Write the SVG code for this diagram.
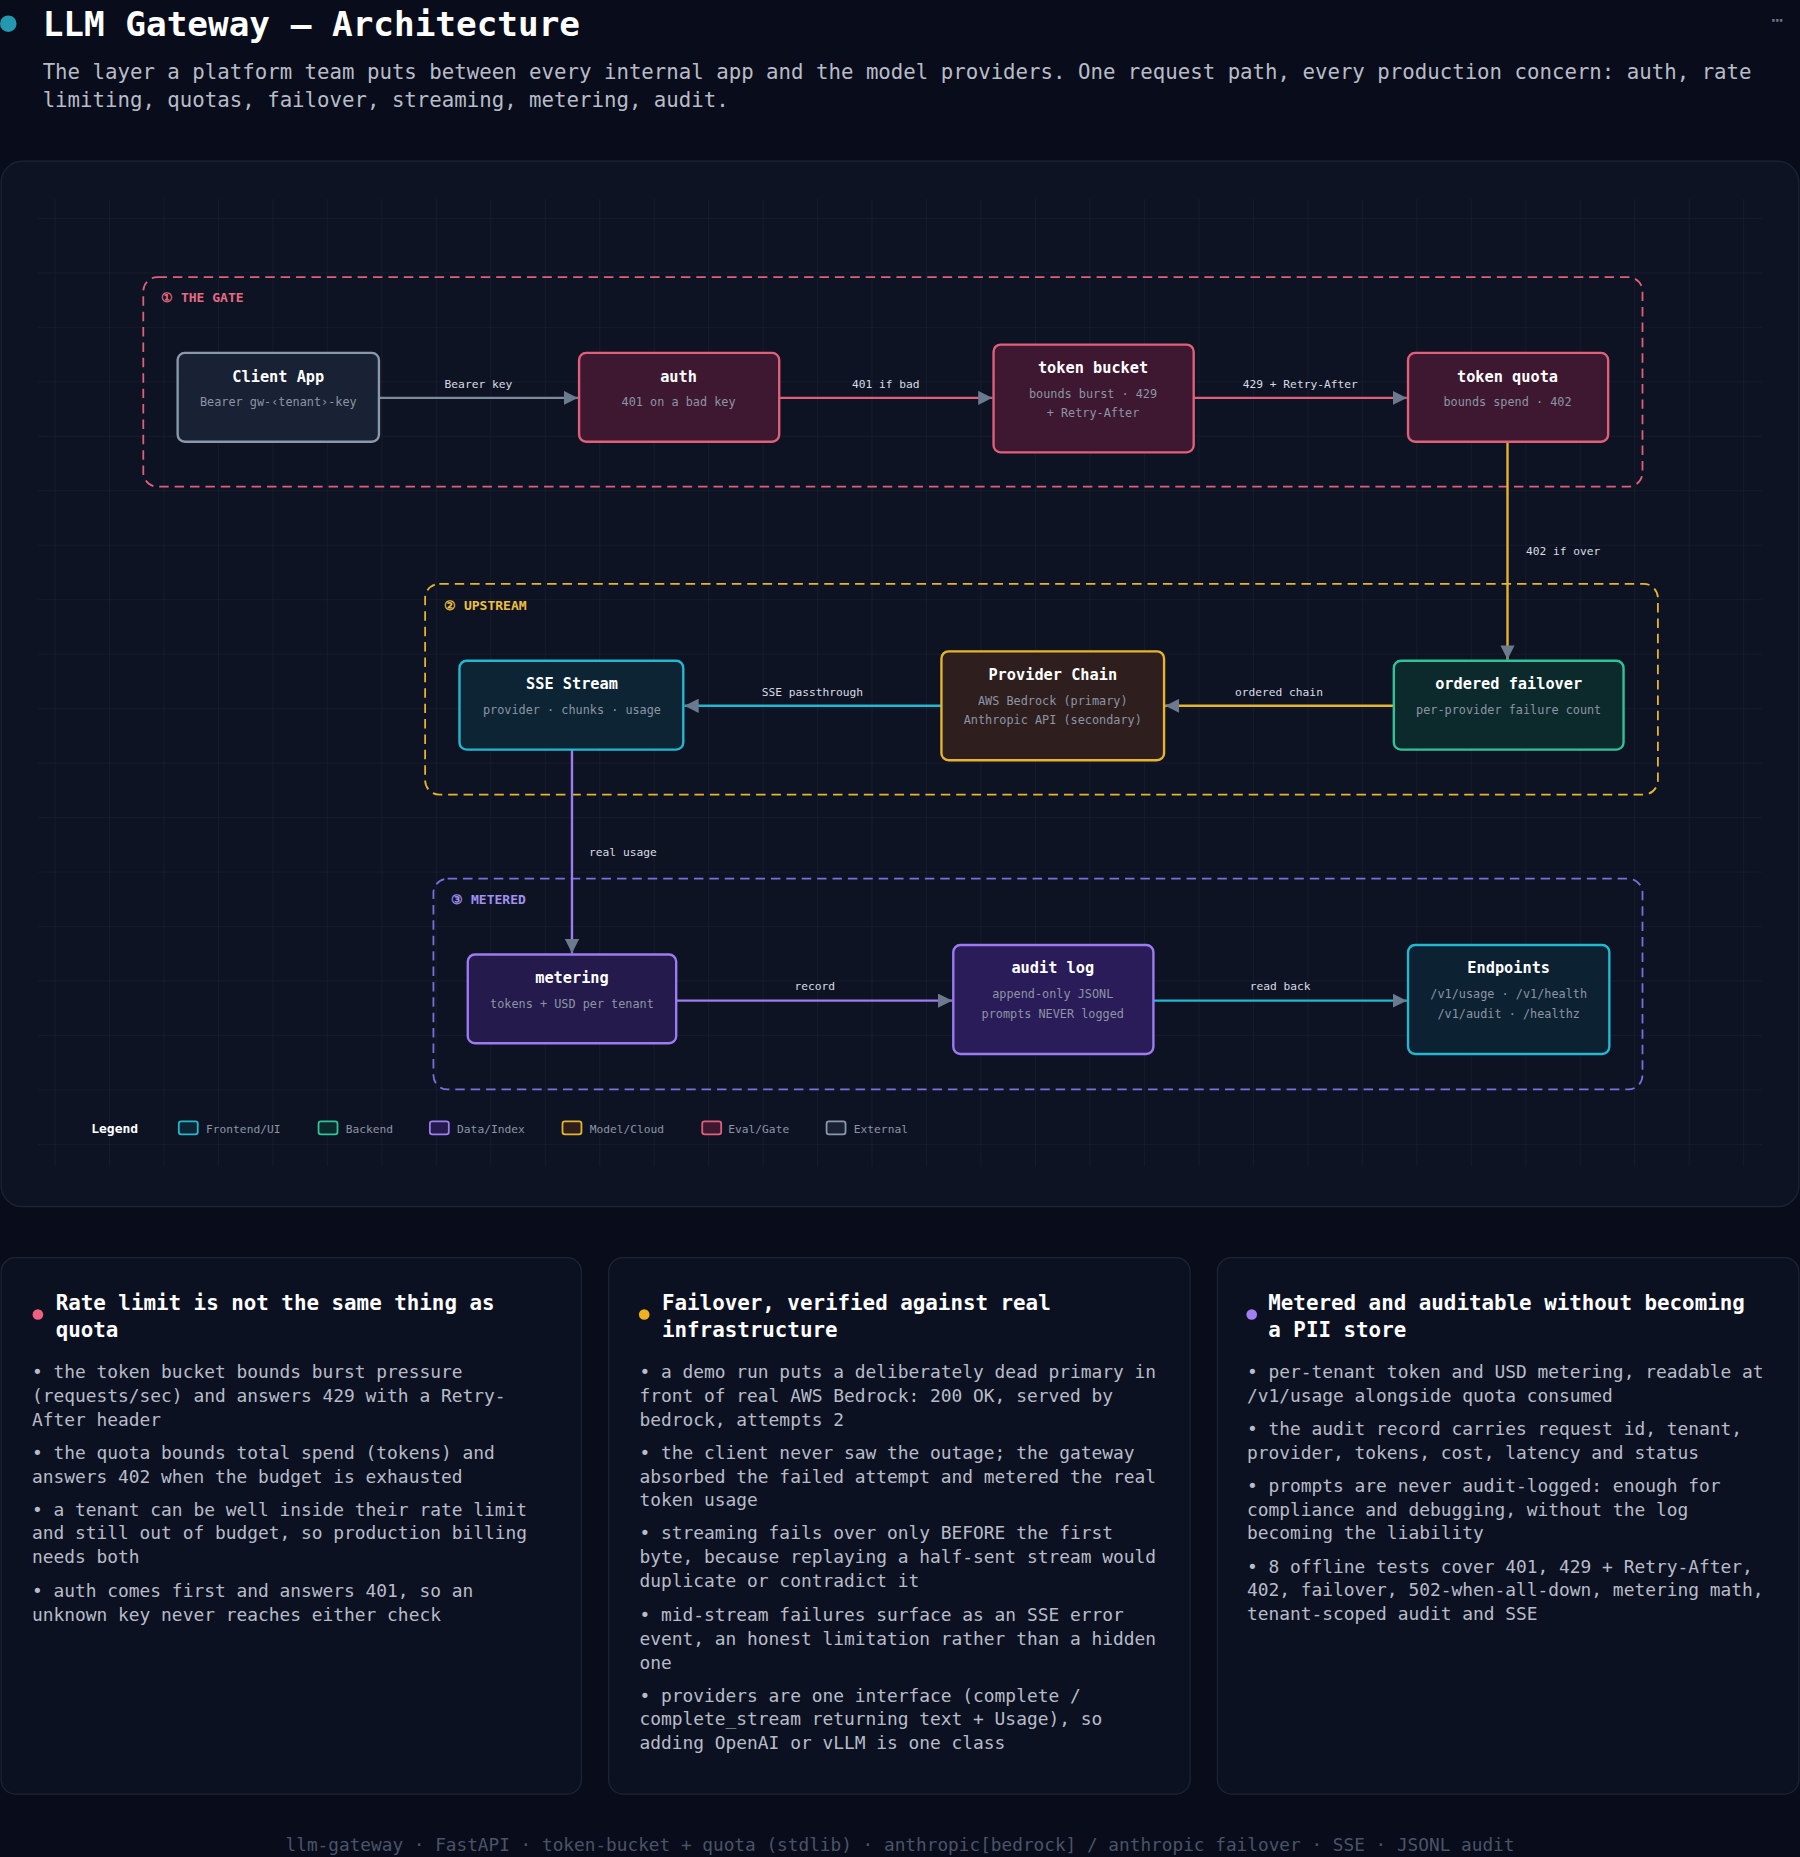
<svg xmlns="http://www.w3.org/2000/svg" width="1800" height="1857" viewBox="0 0 1800 1857">
<defs>
<style>
text{font-family:"DejaVu Sans Mono","Liberation Mono",monospace}
.nt{font-size:12.9px;font-weight:bold;fill:#ffffff;text-anchor:middle}
.ns{font-size:10px;fill:#8c95a5;text-anchor:middle}
.el{font-size:9.5px;fill:#d8dce4;text-anchor:middle}
.node rect{stroke-width:2}
.grp{fill:none;stroke-width:1.5;stroke-dasharray:8 5}
.gl{font-size:11px;font-weight:bold}
.lg{font-size:9.5px;fill:#8c95a5}
.ct{font-size:17.6px;font-weight:bold;fill:#ffffff}
.cb{font-size:15.1px;fill:#b8bcc8}
</style>
<pattern id="grid" width="46" height="46" patternUnits="userSpaceOnUse"><path d="M46 0H0V46" fill="none" stroke="#1a2132" stroke-width="1"/></pattern>
<marker id="ah" viewBox="0 0 10 10" refX="10" refY="5" markerWidth="12" markerHeight="12" markerUnits="userSpaceOnUse" orient="auto"><path d="M0 0L10 5L0 10z" fill="#6b7a8e"/></marker>
</defs>
<rect width="1800" height="1857" fill="#090c1a"/>
<g transform="scale(1.18421)">
<circle cx="7" cy="20" r="7" fill="#2398b0"/>
<text x="36" y="30" font-size="29" font-weight="bold" fill="#ffffff">LLM Gateway — Architecture</text>
<text x="1496" y="22" font-size="16" fill="#6b7486">⋯</text>
<text x="36" y="67" font-size="17.5" fill="#b8bcc8">The layer a platform team puts between every internal app and the model providers. One request path, every production concern: auth, rate</text>
<text x="36" y="90" font-size="17.5" fill="#b8bcc8">limiting, quotas, failover, streaming, metering, audit.</text>

<rect x="1" y="136" width="1518" height="883" rx="18" fill="#0e1323" stroke="#1e2536"/>
<rect x="32" y="168" width="1456" height="817" fill="url(#grid)"/>

<g id="groups">
<rect class="grp" x="121" y="234" width="1266" height="177" rx="12" stroke="#e0607a"/>
<text class="gl" x="136" y="255" fill="#e86a82">① THE GATE</text>
<rect class="grp" x="359" y="493" width="1041" height="178" rx="12" stroke="#e6b52e" fill="#11131c"/>
<text class="gl" x="375" y="515" fill="#f0c040">② UPSTREAM</text>
<rect class="grp" x="366" y="742" width="1021" height="178" rx="12" stroke="#7c6ee0" fill="#10122a" fill-opacity="0.5"/>
<text class="gl" x="381" y="763" fill="#a090f0">③ METERED</text>
</g>

<g id="connectors" fill="none" stroke-width="2">
<line x1="320" y1="336" x2="488" y2="336" stroke="#7d8a9c" marker-end="url(#ah)"/>
<line x1="658" y1="336" x2="838" y2="336" stroke="#e0607a" marker-end="url(#ah)"/>
<line x1="1008" y1="336" x2="1188" y2="336" stroke="#e0607a" marker-end="url(#ah)"/>
<line x1="1273" y1="373" x2="1273" y2="557" stroke="#e6b52e" marker-end="url(#ah)"/>
<line x1="795" y1="596" x2="578" y2="596" stroke="#22b8d0" marker-end="url(#ah)"/>
<line x1="1177" y1="596" x2="984" y2="596" stroke="#e6b52e" marker-end="url(#ah)"/>
<line x1="483" y1="633" x2="483" y2="805" stroke="#9c7cf0" marker-end="url(#ah)"/>
<line x1="571" y1="845" x2="804" y2="845" stroke="#9c7cf0" marker-end="url(#ah)"/>
<line x1="974" y1="845" x2="1188" y2="845" stroke="#22b8d0" marker-end="url(#ah)"/>
</g>
<g id="edge-labels">
<text class="el" x="404" y="328">Bearer key</text>
<text class="el" x="748" y="328">401 if bad</text>
<text class="el" x="1098" y="328">429 + Retry-After</text>
<text class="el" x="1320" y="469">402 if over</text>
<text class="el" x="686" y="588">SSE passthrough</text>
<text class="el" x="1080" y="588">ordered chain</text>
<text class="el" x="526" y="723">real usage</text>
<text class="el" x="688" y="836">record</text>
<text class="el" x="1081" y="836">read back</text>
</g>

<g id="client-app" class="node"><rect x="150" y="298" width="170" height="75" rx="6" fill="#182234" stroke="#8a98ac"/><text class="nt" x="235" y="323">Client App</text><text class="ns" x="235" y="343">Bearer gw-‹tenant›-key</text></g>
<g id="auth" class="node"><rect x="489" y="298" width="169" height="75" rx="6" fill="#3e1830" stroke="#e0607a"/><text class="nt" x="573" y="323">auth</text><text class="ns" x="573" y="343">401 on a bad key</text></g>
<g id="token-bucket" class="node"><rect x="839" y="291" width="169" height="91" rx="6" fill="#3e1830" stroke="#e0607a"/><text class="nt" x="923" y="315">token bucket</text><text class="ns" x="923" y="336">bounds burst · 429</text><text class="ns" x="923" y="352">+ Retry-After</text></g>
<g id="token-quota" class="node"><rect x="1189" y="298" width="169" height="75" rx="6" fill="#3e1830" stroke="#e0607a"/><text class="nt" x="1273" y="323">token quota</text><text class="ns" x="1273" y="343">bounds spend · 402</text></g>
<g id="sse-stream" class="node"><rect x="388" y="558" width="189" height="75" rx="6" fill="#0c2434" stroke="#22b8d0"/><text class="nt" x="483" y="582">SSE Stream</text><text class="ns" x="483" y="603">provider · chunks · usage</text></g>
<g id="provider-chain" class="node"><rect x="795" y="550" width="188" height="92" rx="6" fill="#2e1f1e" stroke="#e6b52e"/><text class="nt" x="889" y="574">Provider Chain</text><text class="ns" x="889" y="595">AWS Bedrock (primary)</text><text class="ns" x="889" y="611">Anthropic API (secondary)</text></g>
<g id="ordered-failover" class="node"><rect x="1177" y="558" width="194" height="75" rx="6" fill="#0c2a2c" stroke="#2ec49a"/><text class="nt" x="1274" y="582">ordered failover</text><text class="ns" x="1274" y="603">per-provider failure count</text></g>
<g id="metering" class="node"><rect x="395" y="806" width="176" height="75" rx="6" fill="#241a4c" stroke="#9c7cf0"/><text class="nt" x="483" y="830">metering</text><text class="ns" x="483" y="851">tokens + USD per tenant</text></g>
<g id="audit-log" class="node"><rect x="805" y="798" width="169" height="92" rx="6" fill="#2a1c58" stroke="#9c7cf0"/><text class="nt" x="889" y="822">audit log</text><text class="ns" x="889" y="843">append-only JSONL</text><text class="ns" x="889" y="860">prompts NEVER logged</text></g>
<g id="endpoints" class="node"><rect x="1189" y="798" width="170" height="92" rx="6" fill="#0c2232" stroke="#22b8d0"/><text class="nt" x="1274" y="822">Endpoints</text><text class="ns" x="1274" y="843">/v1/usage · /v1/health</text><text class="ns" x="1274" y="860">/v1/audit · /healthz</text></g>

<g id="legend">
<text x="77" y="957" font-size="11" font-weight="bold" fill="#ffffff">Legend</text>
<rect x="151" y="947" width="16" height="11" rx="2" fill="#0c2434" stroke="#22b8d0" stroke-width="1.5"/><text class="lg" x="174" y="957">Frontend/UI</text>
<rect x="269" y="947" width="16" height="11" rx="2" fill="#0c2a2c" stroke="#2ec49a" stroke-width="1.5"/><text class="lg" x="292" y="957">Backend</text>
<rect x="363" y="947" width="16" height="11" rx="2" fill="#241a4c" stroke="#9c7cf0" stroke-width="1.5"/><text class="lg" x="386" y="957">Data/Index</text>
<rect x="475" y="947" width="16" height="11" rx="2" fill="#2e1f1e" stroke="#e6b52e" stroke-width="1.5"/><text class="lg" x="498" y="957">Model/Cloud</text>
<rect x="593" y="947" width="16" height="11" rx="2" fill="#3e1830" stroke="#e0607a" stroke-width="1.5"/><text class="lg" x="615" y="957">Eval/Gate</text>
<rect x="698" y="947" width="16" height="11" rx="2" fill="#182234" stroke="#8a98ac" stroke-width="1.5"/><text class="lg" x="721" y="957">External</text>
</g>

<g id="card-rate">
<rect x="1" y="1062" width="490" height="453" rx="12" fill="#0c1122" stroke="#1e2536"/>
<circle cx="32" cy="1110" r="4.5" fill="#f06080"/>
<text class="ct" x="47" y="1106">Rate limit is not the same thing as</text>
<text class="ct" x="47" y="1129">quota</text>
<text class="cb" x="27" y="1164">• the token bucket bounds burst pressure</text>
<text class="cb" x="27" y="1184">(requests/sec) and answers 429 with a Retry-</text>
<text class="cb" x="27" y="1204">After header</text>
<text class="cb" x="27" y="1232">• the quota bounds total spend (tokens) and</text>
<text class="cb" x="27" y="1252">answers 402 when the budget is exhausted</text>
<text class="cb" x="27" y="1280">• a tenant can be well inside their rate limit</text>
<text class="cb" x="27" y="1300">and still out of budget, so production billing</text>
<text class="cb" x="27" y="1320">needs both</text>
<text class="cb" x="27" y="1349">• auth comes first and answers 401, so an</text>
<text class="cb" x="27" y="1369">unknown key never reaches either check</text>
</g>
<g id="card-failover">
<rect x="514" y="1062" width="491" height="453" rx="12" fill="#0c1122" stroke="#1e2536"/>
<circle cx="544" cy="1110" r="4.5" fill="#f0b020"/>
<text class="ct" x="559" y="1106">Failover, verified against real</text>
<text class="ct" x="559" y="1129">infrastructure</text>
<text class="cb" x="540" y="1164">• a demo run puts a deliberately dead primary in</text>
<text class="cb" x="540" y="1184">front of real AWS Bedrock: 200 OK, served by</text>
<text class="cb" x="540" y="1204">bedrock, attempts 2</text>
<text class="cb" x="540" y="1232">• the client never saw the outage; the gateway</text>
<text class="cb" x="540" y="1252">absorbed the failed attempt and metered the real</text>
<text class="cb" x="540" y="1272">token usage</text>
<text class="cb" x="540" y="1300">• streaming fails over only BEFORE the first</text>
<text class="cb" x="540" y="1320">byte, because replaying a half-sent stream would</text>
<text class="cb" x="540" y="1340">duplicate or contradict it</text>
<text class="cb" x="540" y="1369">• mid-stream failures surface as an SSE error</text>
<text class="cb" x="540" y="1389">event, an honest limitation rather than a hidden</text>
<text class="cb" x="540" y="1409">one</text>
<text class="cb" x="540" y="1437">• providers are one interface (complete /</text>
<text class="cb" x="540" y="1457">complete_stream returning text + Usage), so</text>
<text class="cb" x="540" y="1477">adding OpenAI or vLLM is one class</text>
</g>
<g id="card-metered">
<rect x="1028" y="1062" width="491" height="453" rx="12" fill="#0c1122" stroke="#1e2536"/>
<circle cx="1057" cy="1110" r="4.5" fill="#a080f0"/>
<text class="ct" x="1071" y="1106">Metered and auditable without becoming</text>
<text class="ct" x="1071" y="1129">a PII store</text>
<text class="cb" x="1053" y="1164">• per-tenant token and USD metering, readable at</text>
<text class="cb" x="1053" y="1184">/v1/usage alongside quota consumed</text>
<text class="cb" x="1053" y="1212">• the audit record carries request id, tenant,</text>
<text class="cb" x="1053" y="1232">provider, tokens, cost, latency and status</text>
<text class="cb" x="1053" y="1260">• prompts are never audit-logged: enough for</text>
<text class="cb" x="1053" y="1280">compliance and debugging, without the log</text>
<text class="cb" x="1053" y="1300">becoming the liability</text>
<text class="cb" x="1053" y="1328">• 8 offline tests cover 401, 429 + Retry-After,</text>
<text class="cb" x="1053" y="1348">402, failover, 502-when-all-down, metering math,</text>
<text class="cb" x="1053" y="1368">tenant-scoped audit and SSE</text>
</g>
<text x="760" y="1563" font-size="15" fill="#4a5468" text-anchor="middle">llm-gateway · FastAPI · token-bucket + quota (stdlib) · anthropic[bedrock] / anthropic failover · SSE · JSONL audit</text>
</g>
</svg>
